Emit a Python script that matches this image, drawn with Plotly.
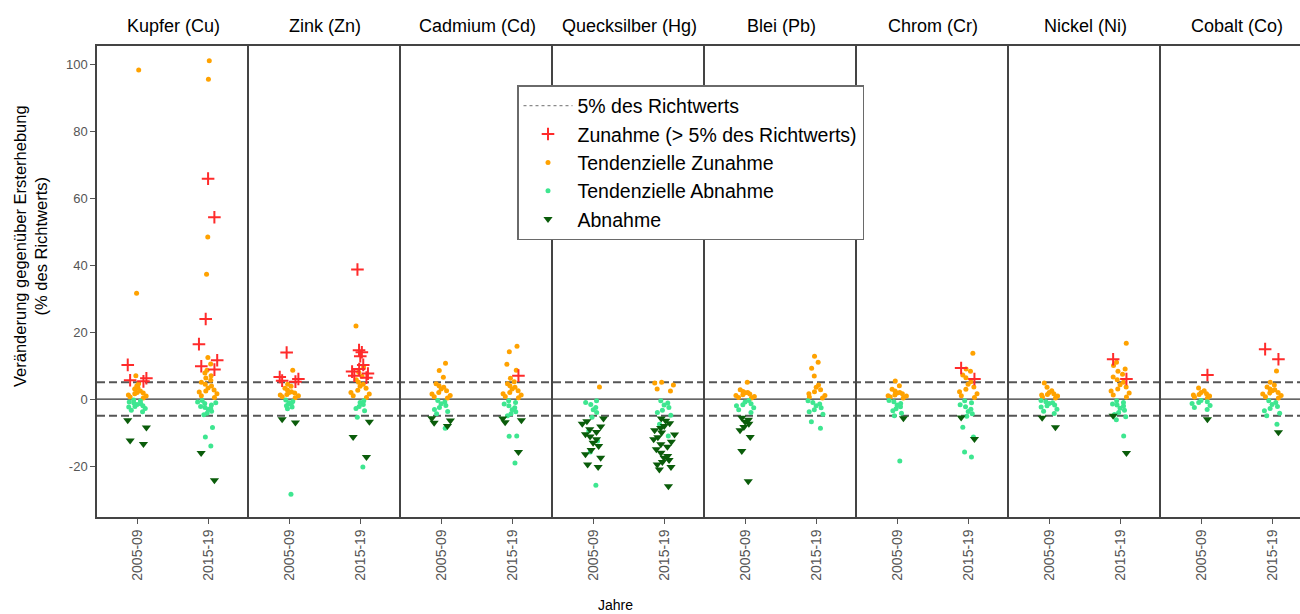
import plotly.graph_objects as go

# Metals shown as facets, left to right
METALS = ["Kupfer (Cu)", "Zink (Zn)", "Cadmium (Cd)", "Quecksilber (Hg)",
          "Blei (Pb)", "Chrom (Cr)", "Nickel (Ni)", "Cobalt (Co)"]
PERIODS = ["2005-09", "2015-19"]
Y_TICKS = [-20, 0, 20, 40, 60, 80, 100]
Y_TICK_TEXT = ["-20", "0", "20", "40", "60", "80", "100"]

# Change vs. first survey (% of guide value), one sub-list per metal
ZUNAHME_0509 = [
    [10.2, 6.2, 5.6, 5.3],
    [13.9, 6.6, 6.0, 5.5, 5.2],
    [], [], [], [], [],
    [7.2],
]
ZUNAHME_1519 = [
    [65.8, 54.3, 23.9, 16.4, 11.6, 9.8, 8.8],
    [38.7, 14.6, 14.0, 12.8, 10.2, 9.0, 8.2, 7.6, 7.0, 6.4],
    [7.0],
    [],
    [],
    [9.3, 6.0],
    [11.9, 6.0],
    [14.9, 11.9],
]
TEND_ZUNAHME_0509 = [
    [98.2, 31.6, 7.0, 4.6, 4.0, 3.4, 2.9, 2.4, 2.0, 1.6, 1.2, 0.9, 0.6, 0.3, 3.1, 1.8],
    [8.6, 4.4, 3.8, 3.2, 2.7, 2.2, 1.8, 1.4, 1.0, 0.7, 0.4, 2.0, 1.2],
    [10.7, 8.5, 6.5, 4.6, 4.0, 3.5, 3.0, 2.5, 2.0, 1.5, 1.1, 0.7, 0.3],
    [3.6],
    [5.0, 2.8, 2.3, 1.9, 1.5, 1.1, 0.8, 0.5, 0.3, 2.0, 1.3],
    [5.4, 4.0, 2.9, 2.4, 2.0, 1.6, 1.2, 0.9, 0.6, 0.3, 1.8, 1.0],
    [4.8, 3.5, 2.5, 2.0, 1.6, 1.2, 0.9, 0.6, 0.3, 1.4],
    [3.3, 2.5, 2.0, 1.6, 1.2, 0.9, 0.6, 0.3, 1.4],
]
TEND_ZUNAHME_1519 = [
    [101.0, 95.5, 48.4, 37.3, 12.4, 10.5, 8.6, 7.8, 7.0, 6.3, 5.6, 5.0, 4.4, 3.9,
     3.3, 2.7, 2.1, 1.6, 1.0, 0.5, 2.4],
    [21.8, 9.6, 8.0, 6.8, 5.8, 5.0, 4.4, 3.8, 3.2, 2.6, 2.0, 1.5, 1.0, 0.5],
    [15.8, 14.1, 10.4, 8.6, 6.2, 5.2, 4.6, 4.0, 3.5, 3.0, 2.5, 2.0, 1.6, 1.2, 0.8, 0.4],
    [5.0, 4.8, 4.2, 3.0, 2.4],
    [12.8, 11.0, 9.2, 6.9, 4.2, 3.5, 2.8, 2.2, 1.6, 1.1, 0.6, 0.3],
    [13.7, 9.0, 8.3, 7.2, 6.4, 5.2, 4.4, 3.6, 2.9, 2.2, 1.6, 1.0, 0.5],
    [16.7, 11.0, 10.0, 9.0, 8.3, 7.4, 6.6, 5.8, 5.0, 4.3, 3.6, 3.0, 2.4, 1.8, 1.2, 0.6],
    [8.4, 5.0, 4.2, 3.6, 3.0, 2.5, 2.0, 1.5, 1.1, 0.7, 0.3, 2.8, 1.8],
]
TEND_ABNAHME_0509 = [
    [-0.3, -0.6, -0.9, -1.2, -1.6, -2.0, -2.4, -2.8, -3.3, -3.8, -1.4, -2.2],
    [-0.3, -0.7, -1.1, -1.5, -2.0, -2.4, -2.9, -1.3, -28.4],
    [-0.4, -0.9, -1.4, -1.9, -2.5, -3.1, -3.7, -4.4, -8.7],
    [-0.5, -1.0, -1.6, -2.5, -3.2, -4.0, -5.4, -9.5, -12.5, -15.8, -25.7],
    [-0.4, -0.9, -1.4, -2.0, -2.6, -3.2, -4.0, -1.7],
    [-0.4, -0.8, -1.3, -1.8, -2.3, -2.9, -3.5, -4.2, -5.0, -18.5],
    [-0.4, -0.8, -1.3, -1.8, -2.4, -3.0, -3.6, -4.3, -1.1, -2.0],
    [-0.4, -0.8, -1.3, -1.9, -2.5, -3.1, -1.0],
]
TEND_ABNAHME_1519 = [
    [-0.4, -0.9, -1.3, -1.8, -2.2, -2.7, -3.1, -3.6, -4.2, -4.7, -1.1, -2.5,
     -8.5, -11.3, -14.0],
    [-0.5, -1.0, -1.6, -2.2, -2.8, -3.5, -5.4, -20.3],
    [-0.5, -1.0, -1.5, -2.0, -2.6, -3.2, -3.8, -4.4, -5.0, -11.0, -11.1, -19.1],
    [-0.5, -1.2, -1.8, -2.5, -3.3, -4.0, -4.8, -7.5, -11.0],
    [-0.5, -1.0, -1.5, -2.0, -2.6, -3.2, -3.8, -4.5, -6.8, -8.7],
    [-0.5, -1.1, -1.7, -2.3, -3.0, -3.7, -4.4, -5.1, -8.4, -11.3, -15.8, -17.3],
    [-0.5, -1.0, -1.5, -2.1, -2.7, -3.3, -4.0, -4.6, -5.3, -6.2, -11.0, -1.8],
    [-0.5, -1.0, -1.6, -2.2, -2.8, -3.5, -4.2, -5.0, -7.5],
]
ABNAHME_0509 = [
    [-6.3, -8.5, -12.4, -13.4],
    [-6.0, -7.0],
    [-5.7, -6.4, -7.1, -8.0],
    [-5.8, -6.6, -7.4, -8.2, -9.0, -9.8, -10.5, -11.2, -12.0, -13.0, -14.0, -15.2,
     -16.5, -17.5, -19.5, -20.3],
    [-5.6, -6.2, -6.8, -7.4, -8.3, -9.3, -11.3, -15.5, -24.5],
    [-5.7],
    [-5.6, -8.4],
    [-6.0],
]
ABNAHME_1519 = [
    [-16.1, -24.2],
    [-6.8, -11.3, -17.3],
    [-5.8, -6.3, -6.9, -15.8],
    [-5.8, -6.5, -7.2, -8.0, -8.6, -9.3, -10.0, -10.6, -11.4, -12.0, -12.7, -13.5,
     -14.2, -15.0, -16.0, -17.0, -17.5, -18.2, -18.8, -19.5, -20.3, -21.0, -26.0],
    [],
    [-5.5, -11.9],
    [-5.0, -16.1],
    [-9.9],
]
THRESHOLD = 5

FONT = "Liberation Sans, Arial, sans-serif"
TICK_GREY = "#555555"
FRAME = "#444444"

# marker styles per category, drawn bottom to top
STYLES = [
    ("Tendenzielle Zunahme", TEND_ZUNAHME_0509, TEND_ZUNAHME_1519,
     dict(symbol="circle", size=5, color="#ffa200")),
    ("Tendenzielle Abnahme", TEND_ABNAHME_0509, TEND_ABNAHME_1519,
     dict(symbol="circle", size=5, color="#3ee690")),
    ("Abnahme", ABNAHME_0509, ABNAHME_1519,
     dict(symbol="triangle-down", size=8, color="#0a5c0a")),
    ("Zunahme (> 5% des Richtwerts)", ZUNAHME_0509, ZUNAHME_1519,
     dict(symbol="cross-thin", size=9, color="#ff2b2b",
          line=dict(color="#ff2b2b", width=2))),
]
LEGEND_ORDER = ["Zunahme (> 5% des Richtwerts)", "Tendenzielle Zunahme",
                "Tendenzielle Abnahme", "Abnahme"]

W, H = 1300, 614
ML, MT, MB = 97, 46, 97
plot_w = W - ML
plot_h = H - MT - MB
panel_px = 152
px_per_unit = 71.0
x_lo = -0.57

fig = go.Figure()

# legend-only entries
fig.add_trace(go.Scatter(x=[None], y=[None], mode="lines", name="5% des Richtwerts",
                         line=dict(color="#8a8a8a", width=1.2, dash="dot"),
                         xaxis="x", yaxis="y"))
style_map = {s[0]: s[3] for s in STYLES}
for name in LEGEND_ORDER:
    fig.add_trace(go.Scatter(x=[None], y=[None], mode="markers", name=name,
                             marker=style_map[name], xaxis="x", yaxis="y"))

# jittered strip points per metal and period
for m in range(len(METALS)):
    ax = "" if m == 0 else str(m + 1)
    for name, early, late, mk in STYLES:
        for period, vals in ((PERIODS[0], early[m]), (PERIODS[1], late[m])):
            if not vals:
                continue
            fig.add_trace(go.Box(
                x=[period] * len(vals), y=vals,
                boxpoints="all", jitter=0.9, pointpos=0, width=0.36,
                fillcolor="rgba(0,0,0,0)", line=dict(width=0, color="rgba(0,0,0,0)"),
                whiskerwidth=0, marker=mk, showlegend=False, name=name,
                hoveron="points", xaxis="x" + ax, yaxis="y" + ax))

layout = dict(
    width=W, height=H,
    margin=dict(l=ML, r=0, t=MT, b=MB, pad=0),
    paper_bgcolor="white", plot_bgcolor="white",
    font=dict(family=FONT, color="black"),
    boxmode="overlay",
    showlegend=True,
    legend=dict(x=(517 - ML) / plot_w, y=(H - MB - 85) / plot_h,
                xanchor="left", yanchor="top",
                bgcolor="white", bordercolor="#6a6a6a", borderwidth=1.5,
                font=dict(size=19.5, family=FONT, color="black"),
                itemwidth=49, tracegroupgap=0),
)

annotations = []
for m in range(len(METALS)):
    ax = "" if m == 0 else str(m + 1)
    left = m * panel_px
    right = min((m + 1) * panel_px, plot_w)
    dom = [left / plot_w, right / plot_w]
    x_hi = x_lo + (right - left) / px_per_unit
    layout["xaxis" + ax] = dict(
        domain=dom, anchor="y" + ax, type="category",
        categoryorder="array", categoryarray=PERIODS,
        range=[x_lo, x_hi], showgrid=False, zeroline=False,
        showline=True, mirror=True, linecolor=FRAME, linewidth=1.5,
        ticks="outside", ticklen=5, tickwidth=1, tickcolor=TICK_GREY,
        tickangle=-90, tickfont=dict(size=14, color=TICK_GREY, family=FONT))
    # each panel draws only its left edge, which doubles as the divider
    ydict = dict(
        anchor="x" + ax, range=[-35.2, 105.4], showgrid=False, zeroline=False,
        showline=True, mirror=False, linecolor=FRAME, linewidth=1.5,
        tickmode="array", tickvals=Y_TICKS, ticktext=Y_TICK_TEXT)
    if m == 0:
        ydict.update(ticks="outside", ticklen=5, tickwidth=1, tickcolor=TICK_GREY,
                     tickfont=dict(size=13, color=TICK_GREY, family=FONT))
    else:
        ydict.update(matches="y", ticks="", showticklabels=False)
    layout["yaxis" + ax] = ydict
    annotations.append(dict(
        text=METALS[m], xref="paper", yref="paper",
        x=(left + panel_px / 2) / plot_w, y=1, yshift=20,
        xanchor="center", yanchor="middle", showarrow=False,
        font=dict(size=18, family=FONT, color="black")))

annotations.append(dict(
    text="Veränderung gegenüber Ersterhebung<br>(% des Richtwerts)",
    xref="paper", yref="paper", x=(30 - ML) / plot_w, y=(H - MB - 246) / plot_h,
    xanchor="center", yanchor="middle", textangle=-90, showarrow=False,
    font=dict(size=16.5, family=FONT, color="black")))
annotations.append(dict(
    text="Jahre", xref="paper", yref="paper",
    x=(615 - ML) / plot_w, y=(H - MB - 605) / plot_h,
    xanchor="center", yanchor="middle", showarrow=False,
    font=dict(size=14, family=FONT, color="black")))
layout["annotations"] = annotations

layout["shapes"] = [
    dict(type="line", xref="paper", yref="y", x0=0, x1=1, y0=0, y1=0,
         line=dict(color="#333333", width=1.2), layer="below"),
    dict(type="line", xref="paper", yref="y", x0=0, x1=1, y0=THRESHOLD, y1=THRESHOLD,
         line=dict(color="#555555", width=2, dash="8px,4px"), layer="below"),
    dict(type="line", xref="paper", yref="y", x0=0, x1=1, y0=-THRESHOLD, y1=-THRESHOLD,
         line=dict(color="#555555", width=2, dash="8px,4px"), layer="below"),
]

fig.update_layout(**layout)
fig.write_html("out.html")
